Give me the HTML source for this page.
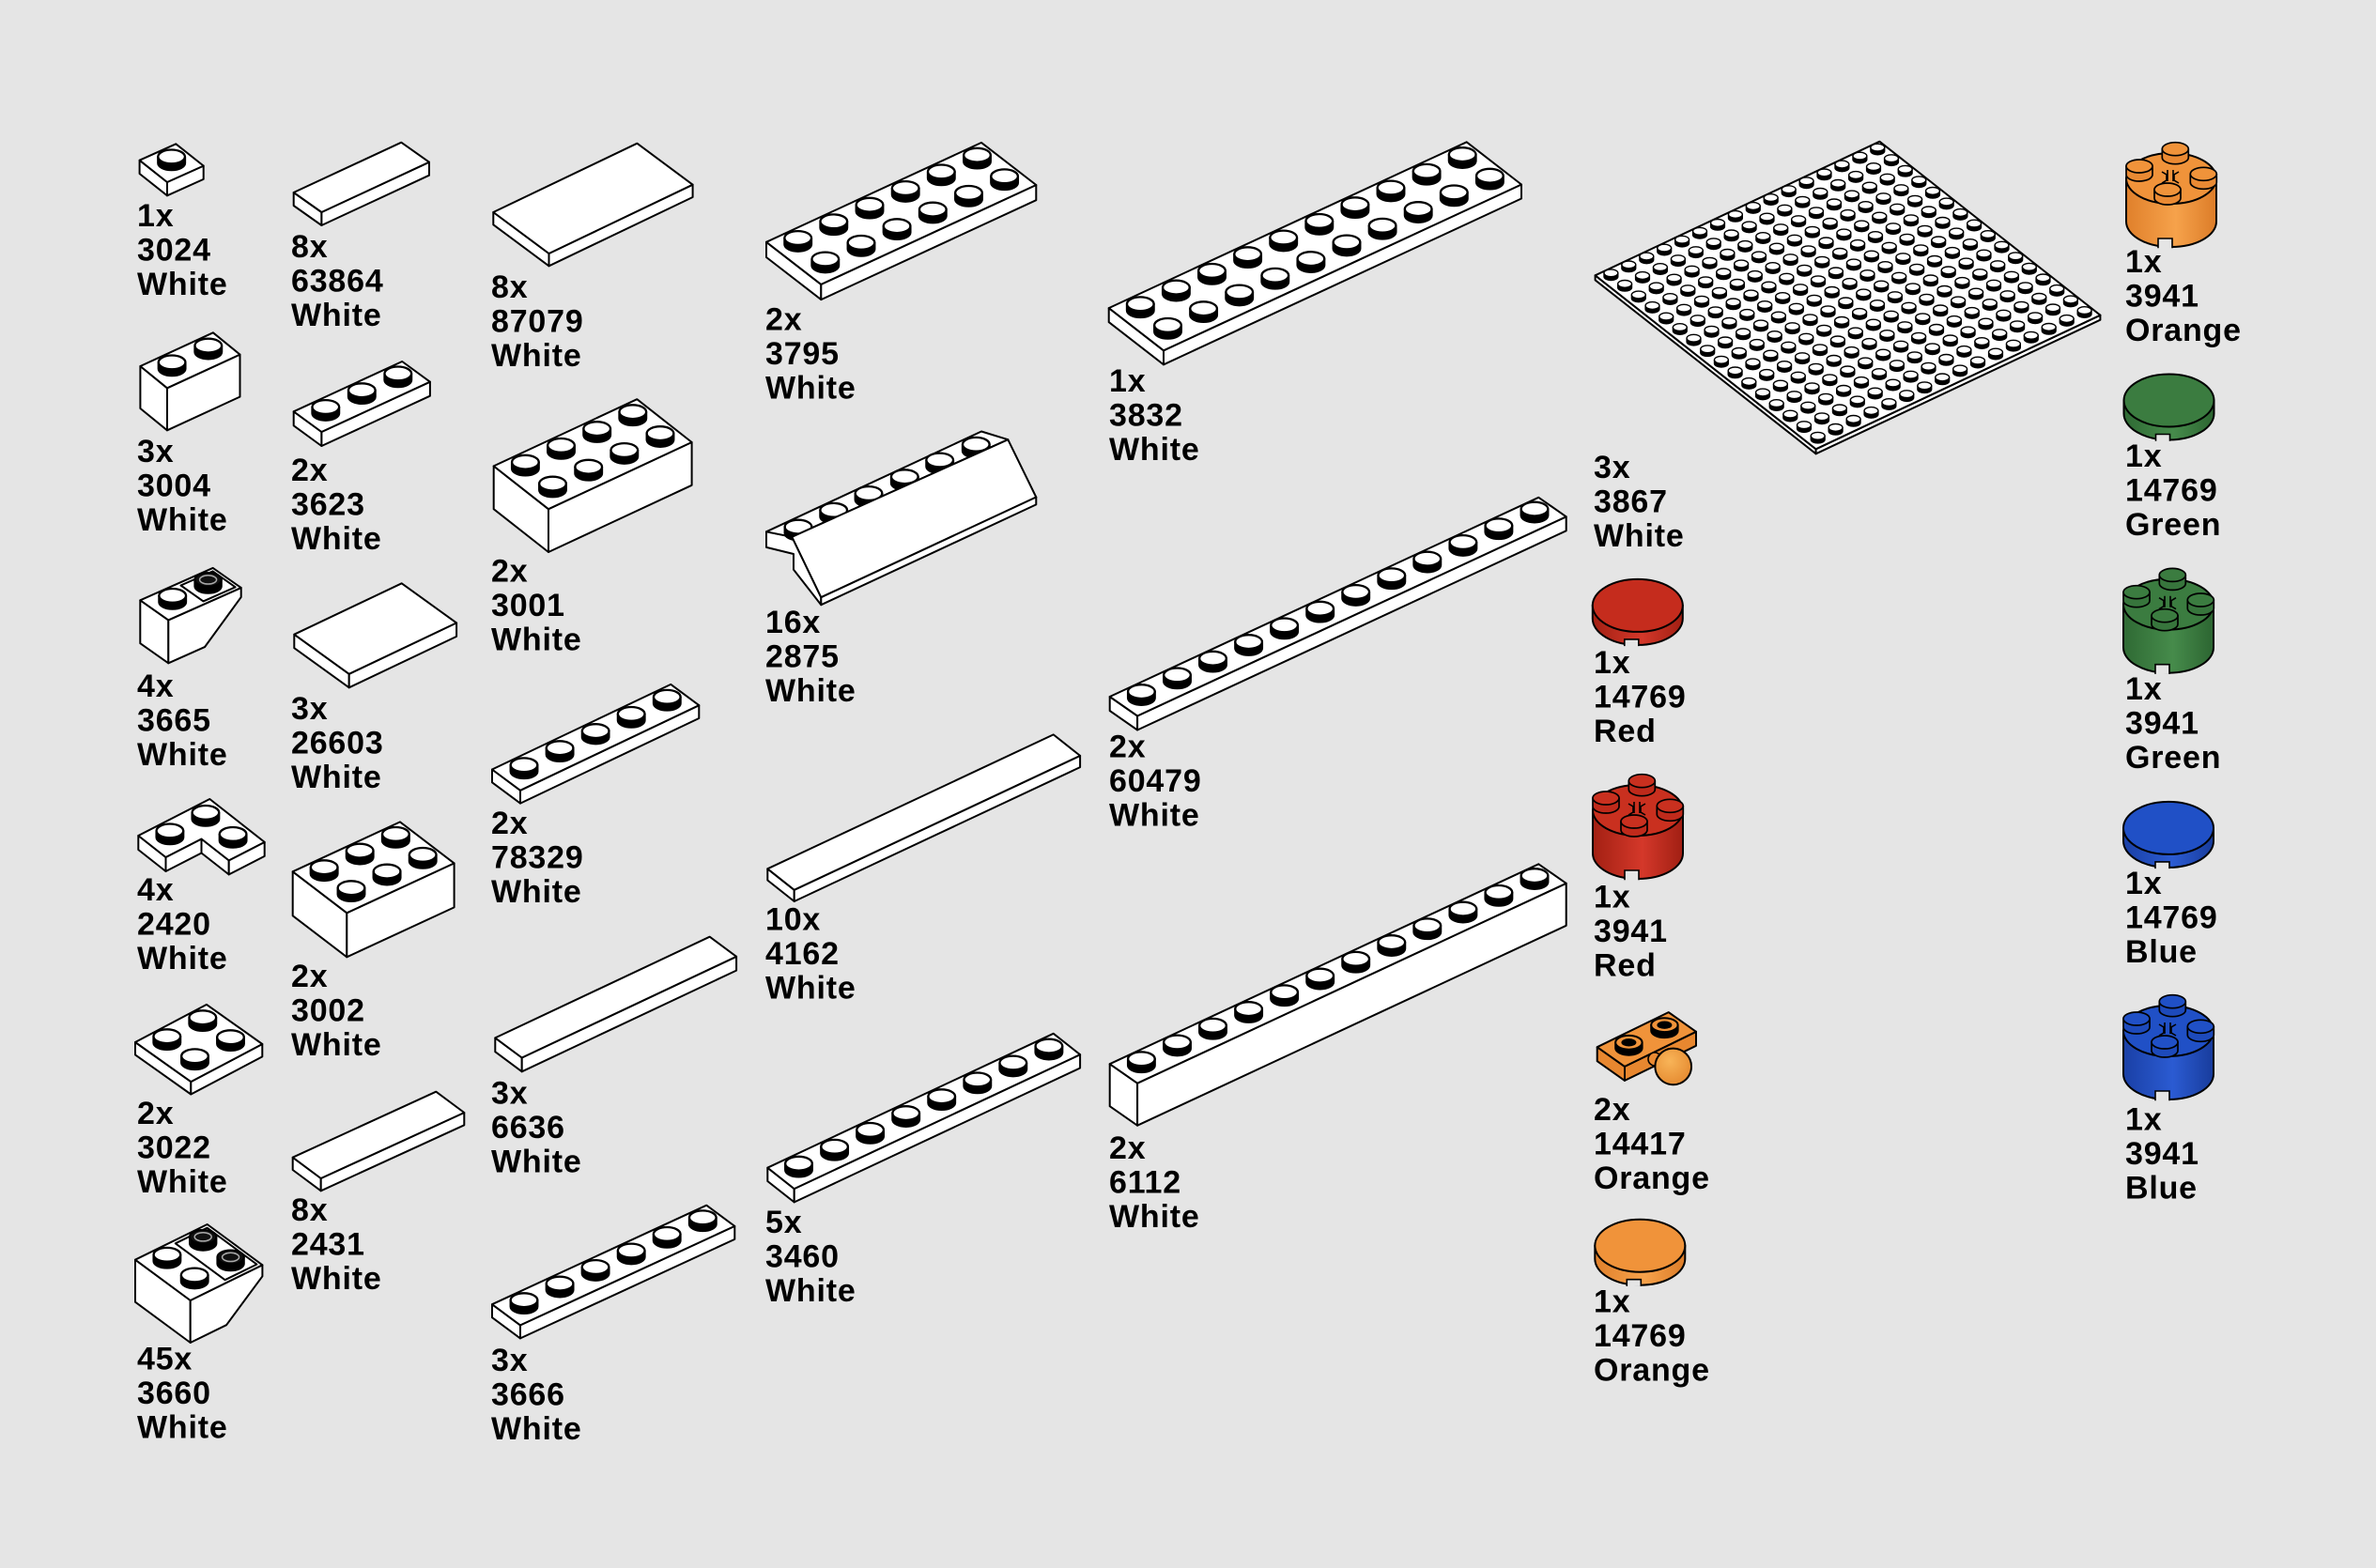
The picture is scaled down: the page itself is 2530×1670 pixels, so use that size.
<!DOCTYPE html>
<html><head><meta charset="utf-8">
<style>
html,body{margin:0;padding:0;background:#e5e5e5;}
svg{display:block}
.lb text{font-family:"Liberation Sans",Arial,Helvetica,sans-serif;font-weight:bold;font-size:34px;letter-spacing:0.8px;fill:#000}
</style></head>
<body>
<svg id="s" width="2530" height="1670" viewBox="0 0 2530 1670">
<defs>
<linearGradient id="gR" x1="0" x2="1" y1="0" y2="0"><stop offset="0" stop-color="#a32013"/><stop offset=".55" stop-color="#d4382a"/><stop offset="1" stop-color="#a11f13"/></linearGradient>
<linearGradient id="gO" x1="0" x2="1" y1="0" y2="0"><stop offset="0" stop-color="#e0802b"/><stop offset=".55" stop-color="#f6a24b"/><stop offset="1" stop-color="#dc7c28"/></linearGradient>
<linearGradient id="gG" x1="0" x2="1" y1="0" y2="0"><stop offset="0" stop-color="#2f6a34"/><stop offset=".55" stop-color="#468b4b"/><stop offset="1" stop-color="#2c6531"/></linearGradient>
<linearGradient id="gB" x1="0" x2="1" y1="0" y2="0"><stop offset="0" stop-color="#1a40a6"/><stop offset=".55" stop-color="#2b5bd2"/><stop offset="1" stop-color="#183c9c"/></linearGradient>
<radialGradient id="gBall" cx=".4" cy=".35" r=".7"><stop offset="0" stop-color="#f8b458"/><stop offset="1" stop-color="#e58a30"/></radialGradient>
</defs>
<rect width="2530" height="1670" fill="#e5e5e5"/>
<g id="parts"></g>
<g class="lb">
<text x="146" y="241"><tspan x="146">1x</tspan><tspan x="146" dy="36.5">3024</tspan><tspan x="146" dy="36.5">White</tspan></text>
<text x="146" y="492"><tspan x="146">3x</tspan><tspan x="146" dy="36.5">3004</tspan><tspan x="146" dy="36.5">White</tspan></text>
<text x="146" y="742"><tspan x="146">4x</tspan><tspan x="146" dy="36.5">3665</tspan><tspan x="146" dy="36.5">White</tspan></text>
<text x="146" y="959"><tspan x="146">4x</tspan><tspan x="146" dy="36.5">2420</tspan><tspan x="146" dy="36.5">White</tspan></text>
<text x="146" y="1197"><tspan x="146">2x</tspan><tspan x="146" dy="36.5">3022</tspan><tspan x="146" dy="36.5">White</tspan></text>
<text x="146" y="1458.7"><tspan x="146">45x</tspan><tspan x="146" dy="36.5">3660</tspan><tspan x="146" dy="36.5">White</tspan></text>

<text x="310" y="274"><tspan x="310">8x</tspan><tspan x="310" dy="36.5">63864</tspan><tspan x="310" dy="36.5">White</tspan></text>
<text x="310" y="512"><tspan x="310">2x</tspan><tspan x="310" dy="36.5">3623</tspan><tspan x="310" dy="36.5">White</tspan></text>
<text x="310" y="766"><tspan x="310">3x</tspan><tspan x="310" dy="36.5">26603</tspan><tspan x="310" dy="36.5">White</tspan></text>
<text x="310" y="1051"><tspan x="310">2x</tspan><tspan x="310" dy="36.5">3002</tspan><tspan x="310" dy="36.5">White</tspan></text>
<text x="310" y="1300"><tspan x="310">8x</tspan><tspan x="310" dy="36.5">2431</tspan><tspan x="310" dy="36.5">White</tspan></text>

<text x="523" y="317"><tspan x="523">8x</tspan><tspan x="523" dy="36.5">87079</tspan><tspan x="523" dy="36.5">White</tspan></text>
<text x="523" y="619.7"><tspan x="523">2x</tspan><tspan x="523" dy="36.5">3001</tspan><tspan x="523" dy="36.5">White</tspan></text>
<text x="523" y="888"><tspan x="523">2x</tspan><tspan x="523" dy="36.5">78329</tspan><tspan x="523" dy="36.5">White</tspan></text>
<text x="523" y="1175.5"><tspan x="523">3x</tspan><tspan x="523" dy="36.5">6636</tspan><tspan x="523" dy="36.5">White</tspan></text>
<text x="523" y="1460"><tspan x="523">3x</tspan><tspan x="523" dy="36.5">3666</tspan><tspan x="523" dy="36.5">White</tspan></text>

<text x="815" y="351.7"><tspan x="815">2x</tspan><tspan x="815" dy="36.5">3795</tspan><tspan x="815" dy="36.5">White</tspan></text>
<text x="815" y="674"><tspan x="815">16x</tspan><tspan x="815" dy="36.5">2875</tspan><tspan x="815" dy="36.5">White</tspan></text>
<text x="815" y="990.4"><tspan x="815">10x</tspan><tspan x="815" dy="36.5">4162</tspan><tspan x="815" dy="36.5">White</tspan></text>
<text x="815" y="1312.8"><tspan x="815">5x</tspan><tspan x="815" dy="36.5">3460</tspan><tspan x="815" dy="36.5">White</tspan></text>

<text x="1181" y="417"><tspan x="1181">1x</tspan><tspan x="1181" dy="36.5">3832</tspan><tspan x="1181" dy="36.5">White</tspan></text>
<text x="1181" y="806.6"><tspan x="1181">2x</tspan><tspan x="1181" dy="36.5">60479</tspan><tspan x="1181" dy="36.5">White</tspan></text>
<text x="1181" y="1234"><tspan x="1181">2x</tspan><tspan x="1181" dy="36.5">6112</tspan><tspan x="1181" dy="36.5">White</tspan></text>

<text x="1697" y="509"><tspan x="1697">3x</tspan><tspan x="1697" dy="36.5">3867</tspan><tspan x="1697" dy="36.5">White</tspan></text>
<text x="1697" y="717"><tspan x="1697">1x</tspan><tspan x="1697" dy="36.5">14769</tspan><tspan x="1697" dy="36.5">Red</tspan></text>
<text x="1697" y="966.7"><tspan x="1697">1x</tspan><tspan x="1697" dy="36.5">3941</tspan><tspan x="1697" dy="36.5">Red</tspan></text>
<text x="1697" y="1192.8"><tspan x="1697">2x</tspan><tspan x="1697" dy="36.5">14417</tspan><tspan x="1697" dy="36.5">Orange</tspan></text>
<text x="1697" y="1397.6"><tspan x="1697">1x</tspan><tspan x="1697" dy="36.5">14769</tspan><tspan x="1697" dy="36.5">Orange</tspan></text>

<text x="2263" y="290"><tspan x="2263">1x</tspan><tspan x="2263" dy="36.5">3941</tspan><tspan x="2263" dy="36.5">Orange</tspan></text>
<text x="2263" y="497"><tspan x="2263">1x</tspan><tspan x="2263" dy="36.5">14769</tspan><tspan x="2263" dy="36.5">Green</tspan></text>
<text x="2263" y="744.8"><tspan x="2263">1x</tspan><tspan x="2263" dy="36.5">3941</tspan><tspan x="2263" dy="36.5">Green</tspan></text>
<text x="2263" y="952"><tspan x="2263">1x</tspan><tspan x="2263" dy="36.5">14769</tspan><tspan x="2263" dy="36.5">Blue</tspan></text>
<text x="2263" y="1203.4"><tspan x="2263">1x</tspan><tspan x="2263" dy="36.5">3941</tspan><tspan x="2263" dy="36.5">Blue</tspan></text>
</g>
</svg>
<script>
(function(){
var s='';
function f(n){return (Math.round(n*10)/10).toString();}
function P(p){return f(p[0])+','+f(p[1]);}
function A(a,b){return [a[0]+b[0],a[1]+b[1]];}
function M(a,k){return [a[0]*k,a[1]*k];}
function D(a,h){return [a[0],a[1]+h];}
function poly(pts,fill,sw){s+='<polygon points="'+pts.map(P).join(' ')+'" fill="'+(fill||'#fff')+'" stroke="#000" stroke-width="'+(sw||2)+'" stroke-linejoin="round"/>';}
function cyl(x,y,rx,ry,h,side,top,sw){
  s+='<path d="M'+f(x-rx)+','+f(y-h)+'L'+f(x-rx)+','+f(y)+'A'+f(rx)+','+f(ry)+' 0 0 0 '+f(x+rx)+','+f(y)+'L'+f(x+rx)+','+f(y-h)+'Z" fill="'+side+'" stroke="#000" stroke-width="'+sw+'" stroke-linejoin="round"/>';
  s+='<ellipse cx="'+f(x)+'" cy="'+f(y-h)+'" rx="'+f(rx)+'" ry="'+f(ry)+'" fill="'+top+'" stroke="#000" stroke-width="'+sw+'"/>';
}
function stud(c,k){
  if(k&&k<1){cyl(c[0],c[1],7.4,3.9,3.8,'#000','#fff',1.4);return;}
  cyl(c[0],c[1],14.3,7.4,6.8,'#000','#fff',2.3);
}
function hollow(c){cyl(c[0],c[1],14.2,7.4,7,'#000','#111',2);s+='<ellipse cx="'+f(c[0])+'" cy="'+f(c[1]-7)+'" rx="9" ry="4.6" fill="none" stroke="#aaa" stroke-width="1.5"/>';}
function grid(L,U,V){return function(a,b){return A(A(L,M(U,a)),M(V,b));};}
function box(L,U,V,H,fill,side){var B=A(L,U),F=A(L,V),R=A(F,U);poly([L,F,D(F,H),D(L,H)],side||fill);poly([F,R,D(R,H),D(F,H)],side||fill);poly([L,B,R,F],fill);}
function studsAt(pts,k){pts.sort(function(a,b){return a[1]-b[1];}).forEach(function(c){stud(c,k);});}
function part(L,U,V,H,nu,nv,k){box(L,U,V,H);if(nu){var q=grid(L,U,V),pts=[];for(var i=0;i<nu;i++)for(var j=0;j<nv;j++)pts.push(q((i+.5)/nu,(j+.5)/nv));studsAt(pts,k);}}

/* column 1 */
part([148.6,170.7],[38.7,-17.4],[29.4,23.3],14.3,1,1);
part([149.4,390],[77.5,-35.7],[28.6,23.3],45,2,1);
(function(){var L=[149.3,639.3],U=[77.4,-34.4],V=[30,21.1],H=45.9,q=grid(L,U,V);var F=q(0,1),R=q(1,1),B=q(1,0);
poly([L,F,D(F,H),D(L,H)]);poly([F,R,D(R,10),D(q(.5,1),H),D(F,H)]);poly([L,B,R,F]);
poly([q(.52,.1),q(.96,.1),q(.96,.9),q(.52,.9)]);stud(q(.25,.5));hollow(q(.74,.5));})();
(function(){var L=[147.3,890],U=[76,-39],V=[58.4,45.9],H=15,q=grid(L,U,V);
poly([q(0,0),q(0,.5),D(q(0,.5),H),D(q(0,0),H)]);
poly([q(0,.5),q(.5,.5),D(q(.5,.5),H),D(q(0,.5),H)]);
poly([q(.5,.5),q(.5,1),D(q(.5,1),H),D(q(.5,.5),H)]);
poly([q(.5,1),q(1,1),D(q(1,1),H),D(q(.5,1),H)]);
poly([q(0,0),q(1,0),q(1,1),q(.5,1),q(.5,.5),q(0,.5)]);
studsAt([q(.25,.25),q(.75,.25),q(.75,.75)]);})();
part([144,1110],[76,-40.1],[59.3,42.1],13.4,2,2);
(function(){var L=[144,1341.7],U=[76.7,-37.7],V=[58.7,43.3],H=45,q=grid(L,U,V);var F=q(0,1),R=q(1,1),B=q(1,0);
poly([L,F,D(F,H),D(L,H)]);poly([F,R,D(R,12),D(q(.5,1),H),D(F,H)]);poly([L,B,R,F]);
poly([q(.52,.05),q(.96,.05),q(.96,.95),q(.52,.95)]);
var pts=[[q(.25,.25),0],[q(.25,.75),0],[q(.75,.25),1],[q(.75,.75),1]].sort(function(a,b){return a[0][1]-b[0][1];});
pts.forEach(function(p){if(p[1])hollow(p[0]);else stud(p[0]);});})();

/* column 2 */
part([312.7,205],[114.6,-53.3],[29.7,21],14);
part([312.7,438.3],[115.5,-53.3],[29.7,21.7],15,3,1);
part([313.3,675.7],[114.4,-54.4],[58.4,42.1],14.5);
part([311.7,928.3],[114.3,-52.9],[57.6,44],47,3,2);
part([311.7,1232.7],[152.6,-70],[30,22.3],13.3);

/* column 3 */
part([525.3,226],[153.1,-73.3],[59.2,44],13.3);
part([525.7,496.4],[152.6,-71.2],[58.3,45.8],45.8,4,2);
part([524,819.5],[190.3,-90.6],[30,22.3],13.8,5,1);
part([527.3,1105.4],[228.4,-107.7],[28.4,21.1],14.8);
part([524,1389.2],[228.3,-105.5],[30,22.2],14,6,1);

/* column 4 */
part([816,257.8],[229,-105.9],[58.3,45.1],16.2,6,2);
(function(){
poly([[816,566.3],[843.3,571.8],[874.3,636.2],[874.3,644.2],[845,606.6],[845,590],[816,582.9]]);
poly([[816,566.3],[1045,459.5],[1073.3,468.2],[843.3,571.8]]);
var tops=[[850,561.1],[887.7,543.3],[925,525.5],[963.3,507.7],[1000.7,490],[1039.3,473.3]];
tops.forEach(function(t){stud([t[0],t[1]+6.8]);});
poly([[843.3,571.8],[1073.3,468.2],[1103.3,529.5],[874.3,636.2]]);
poly([[874.3,636.2],[1103.3,529.5],[1103.3,537.4],[874.3,644.2]]);
})();
part([817.3,925.3],[304.4,-142.9],[28.4,22.5],12.2);
part([817.3,1243.7],[304.4,-142.9],[28.4,22.4],14.3,8,1);

/* column 5 */
part([1180.7,328.1],[381,-176.8],[58.3,45.2],15,10,2);
part([1181.7,742],[456.6,-212.2],[29.4,20.5],15,12,1);
part([1181.7,1133.2],[456.6,-212.9],[29.4,20.5],45,12,1);

/* baseplate */
part([1698.6,293.3],[302.8,-142.6],[235,185],5,16,16,0.5);

/* round parts */
function rbody(cx,cy,rx,ry,h,grad,top,notch){
  s+='<path d="M'+f(cx-rx)+','+f(cy)+'L'+f(cx-rx)+','+f(cy+h)+'A'+rx+','+ry+' 0 0 0 '+f(cx+rx)+','+f(cy+h)+'L'+f(cx+rx)+','+f(cy)+'Z" fill="url(#'+grad+')" stroke="#000" stroke-width="2"/>';
  var by=cy+h+ry;
  s+='<path d="M'+f(cx-14)+','+f(by+1.2)+'L'+f(cx-14)+','+f(by-notch)+'L'+f(cx+1)+','+f(by-notch)+'L'+f(cx+1)+','+f(by+1.2)+'" fill="#e5e5e5" stroke="#000" stroke-width="1.6"/>';
  s+='<ellipse cx="'+f(cx)+'" cy="'+f(cy)+'" rx="'+rx+'" ry="'+ry+'" fill="'+top+'" stroke="#000" stroke-width="2"/>';
}
function rtile(cx,cy,grad,top){rbody(cx,cy,48,28,14,grad,top,6);}
function rbrick(cx,T,grad,top,side){
  rbody(cx,T,48,27,46,grad,top,9);
  var st=[[4.3,-22.3],[-34,-4],[34.3,4.3],[-4,21]];
  for(var i=0;i<3;i++)cyl(cx+st[i][0],T+st[i][1],14,7,9,side,top,1.7);
  var x=cx-1,y=T-3;
  s+='<path d="M'+f(x-9)+','+f(y-4)+'l5,3l0,6l-5,3M'+f(x-3)+','+f(y-6)+'v12M'+f(x+3)+','+f(y-6)+'v12M'+f(x+9)+','+f(y-4)+'l-5,3l0,6l5,3" fill="none" stroke="#000" stroke-width="1.6"/>';
  cyl(cx+st[3][0],T+st[3][1],14,7,9,side,top,1.7);
}
rtile(1743.8,644.9,'gR','#c52c1d');
rbrick(1744,863,'gR','#c9301f','#bf2a1b');
rtile(1746.3,1326.7,'gO','#f0933a');
rbrick(2312,190,'gO','#f0933a','#ea8a33');
rtile(2309.5,426.5,'gG','#3b7c40');
rbrick(2309,643.7,'gG','#3b7c40','#37753c');
rtile(2309,881.9,'gB','#2050c6');
rbrick(2309,1098,'gB','#2050c6','#1d4abb');

/* 14417 plate with ball */
(function(){var L=[1700.7,1115.2],U=[76,-37.1],V=[29.3,20.7],H=15,q=grid(L,U,V);
box(L,U,V,H,'#f0933a','#e8872f');
[q(.25,.5),q(.75,.5)].sort(function(a,b){return a[1]-b[1];}).forEach(function(c){cyl(c[0],c[1],14.2,7.4,6,'#000','#f0933a',2);s+='<ellipse cx="'+f(c[0])+'" cy="'+f(c[1]-6)+'" rx="8" ry="4.2" fill="#000"/>';});
s+='<circle cx="1762" cy="1128" r="7" fill="#e98a33" stroke="#000" stroke-width="1.6"/>';
s+='<circle cx="1781.7" cy="1135.9" r="19.3" fill="url(#gBall)" stroke="#000" stroke-width="2"/>';
})();

document.getElementById('parts').innerHTML=s;
})();
</script>
</body></html>
